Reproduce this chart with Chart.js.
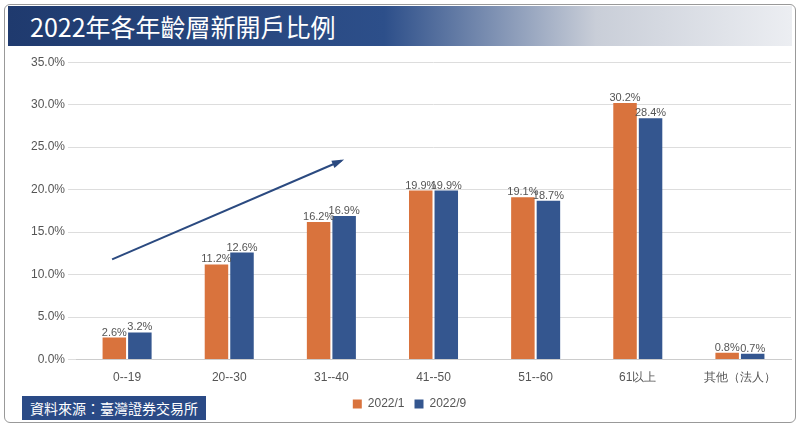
<!DOCTYPE html>
<html><head><meta charset="utf-8">
<script src="https://cdn.jsdelivr.net/npm/chart.js@4"></script>
<style>
body{margin:0;width:800px;height:427px;background:#fff;font-family:"Noto Sans CJK TC","Noto Sans",sans-serif;overflow:hidden}
.frame{position:absolute;left:4px;top:4px;width:790px;height:417px;border:1px solid #999;border-radius:6px;background:#fff}
.title{position:absolute;left:8px;top:6px;width:784px;height:40px;background:linear-gradient(90deg,#1f3a6e 0%,#2d4f8a 48%,#c9ced8 75%,#eceef2 100%);color:#fff;font-size:25px;line-height:40px;padding-left:22px;box-sizing:border-box}
.src{position:absolute;left:22px;top:396px;background:#2a4a86;color:#fff;font-size:14px;padding:2px 8px;line-height:20px}
.wrap{position:absolute;left:10px;top:52px;width:785px;height:368px}
</style></head><body>
<div class="frame"></div>
<div class="title">2022年各年齡層新開戶比例</div>
<div class="wrap"><canvas id="c"></canvas></div>
<div class="src">資料來源：臺灣證券交易所</div>
<script>
let categories = ["0--19","20--30","31--40","41--50","51--60","61以上","其他（法人）"]
let jan = [2.6,11.2,16.2,19.9,19.1,30.2,0.8]
let sep = [3.2,12.6,16.9,19.9,18.7,28.4,0.7]
let yTicks = [0,5,10,15,20,25,30,35]

let labelPlugin = {
    id: "labels",
    afterDatasetsDraw(chart) {
        let ctx = chart.ctx
        ctx.save()
        ctx.font = "11px 'Liberation Sans', Arial"
        ctx.fillStyle = "#555"
        ctx.textAlign = "center"
        chart.data.datasets.forEach((ds, i) => {
            chart.getDatasetMeta(i).data.forEach((bar, j) => {
                ctx.fillText(ds.data[j].toFixed(1) + "%", bar.x, bar.y - 5)
            })
        })
        // trend arrow
        let x = chart.scales.x, y = chart.scales.y
        let x1 = x.getPixelForValue(0) - 15, y1 = y.getPixelForValue(11.8)
        let x2 = x.getPixelForValue(2) + 10, y2 = y.getPixelForValue(23.4)
        ctx.strokeStyle = "#2b4a80"
        ctx.fillStyle = "#2b4a80"
        ctx.lineWidth = 2
        ctx.beginPath(); ctx.moveTo(x1, y1); ctx.lineTo(x2, y2); ctx.stroke()
        let a = Math.atan2(y2 - y1, x2 - x1)
        ctx.beginPath()
        ctx.moveTo(x2 + 3 * Math.cos(a), y2 + 3 * Math.sin(a))
        ctx.lineTo(x2 - 10 * Math.cos(a - 0.4), y2 - 10 * Math.sin(a - 0.4))
        ctx.lineTo(x2 - 10 * Math.cos(a + 0.4), y2 - 10 * Math.sin(a + 0.4))
        ctx.fill()
        ctx.restore()
    }
}

new Chart("c", {
    type: "bar",
    data: {
        labels: categories,
        datasets: [
            {label: "2022/1", data: jan, backgroundColor: "#d9733d", categoryPercentage: 0.5, barPercentage: 0.92},
            {label: "2022/9", data: sep, backgroundColor: "#34568f", categoryPercentage: 0.5, barPercentage: 0.92}
        ]
    },
    options: {
        responsive: true,
        maintainAspectRatio: false,
        animation: false,
        layout: {padding: {top: 8, right: 4, left: 18}},
        plugins: {
            legend: {position: "bottom", labels: {boxWidth: 9, boxHeight: 9, color: "#555", font: {size: 12}}},
            tooltip: {enabled: false}
        },
        scales: {
            x: {grid: {display: false}, border: {color: "#ccc"}, ticks: {color: "#555", font: {size: 12}}},
            y: {min: 0, max: 35, afterBuildTicks: ax => { ax.ticks = yTicks.map(v => ({value: v})) },
                grid: {color: "#ddd"}, border: {display: false},
                ticks: {color: "#555", font: {size: 12}, callback: v => v.toFixed(1) + "%"}}
        }
    },
    plugins: [labelPlugin]
})
</script>
</body></html>
